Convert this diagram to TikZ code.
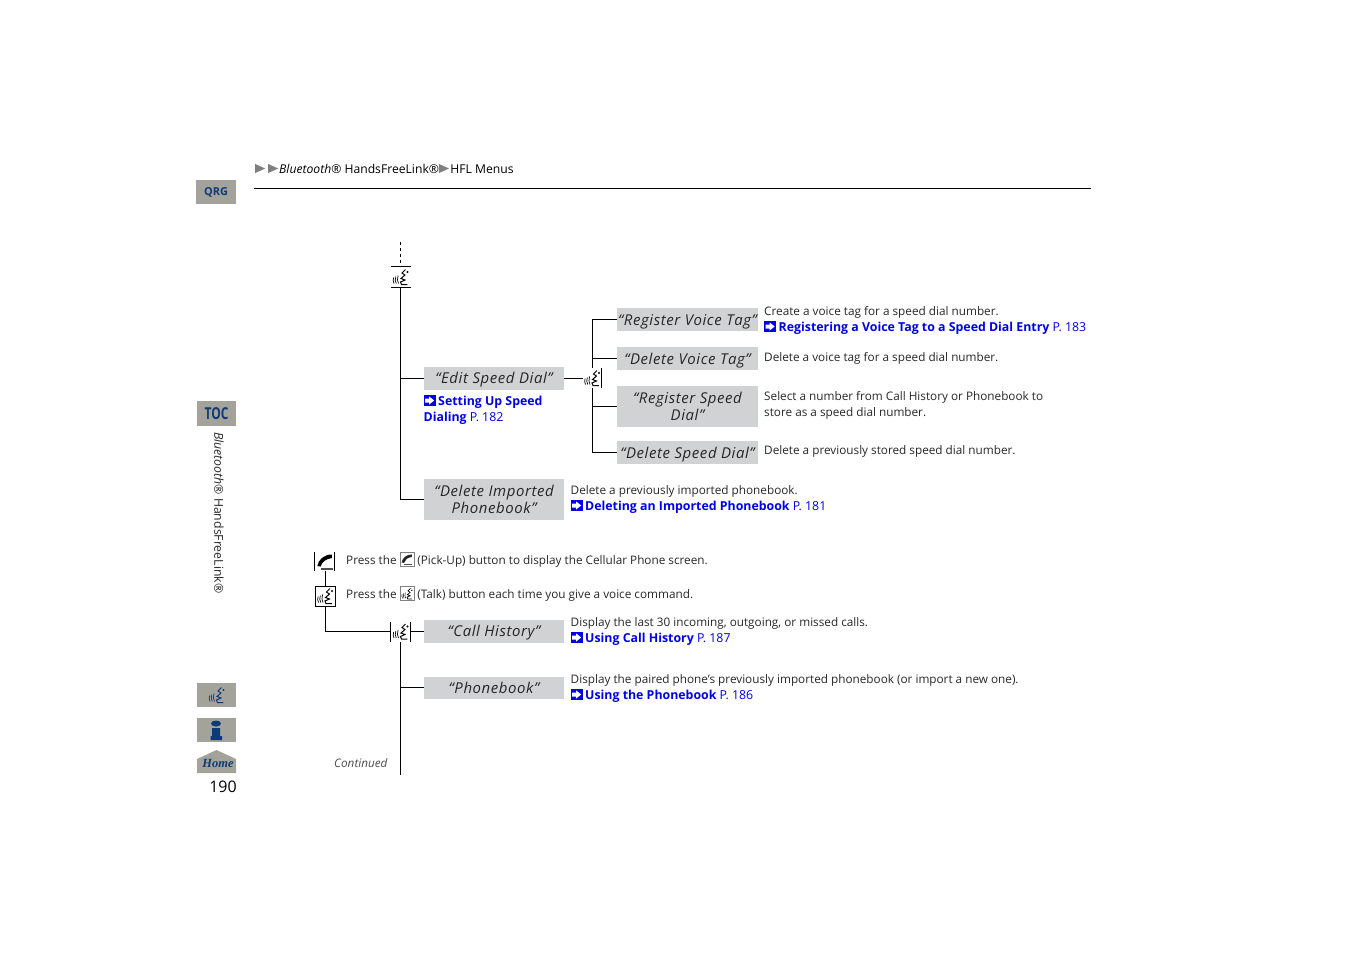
\documentclass[tikz,border=0pt]{standalone}
\usepackage{fontspec}
\setmainfont{Open Sans}
\newfontfamily\homefont{Liberation Serif}
\usetikzlibrary{positioning}
\definecolor{menugray}{HTML}{D1D2D4}
\definecolor{tabgray}{HTML}{A3A39B}
\definecolor{tabblue}{HTML}{0F3A78}
\definecolor{linkblue}{HTML}{0000E6}
\definecolor{crumbgray}{HTML}{7F7F7F}
\tikzset{
  menubox/.style={fill=menugray,minimum width=140bp,inner sep=0pt,align=center,font=\fontsize{15}{17}\selectfont\itshape\addfontfeature{LetterSpace=4},text=black!85},
  menuline/.style={menubox,text height=14.5bp,text depth=3.5bp},
  body/.style={anchor=base west,inner sep=0pt,align=left,font=\fontsize{11.8}{16}\selectfont,text=black!85},
  tab/.style={fill=tabgray,minimum width=39bp,minimum height=24bp,inner sep=0pt,text=tabblue},
  iconnode/.style={inner sep=0pt,minimum size=18bp},
  keybox/.style={draw=black!50,line width=0.6bp,inner sep=0pt,minimum size=14bp},
  treeline/.style={line width=0.9bp},
}
% talk button glyph, about 16 x 16
\newcommand{\talkglyph}[1][black]{\tikz[x=1bp,y=-1bp,line width=0.7bp,#1,baseline=-12bp]{
  \draw (1.2,8.5) .. controls (0.3,10.5) and (0.5,12.5) .. (1.6,14.5);
  \draw (3.4,7.5) .. controls (2.4,10) and (2.6,12.5) .. (3.8,14.5);
  \draw (5.6,6.5) .. controls (4.6,9.5) and (4.8,12.5) .. (6,14.5);
  \draw[line width=1bp] (13,0.5) -- (9.5,4) -- (12.5,6) -- (8.5,9.5) -- (12.5,11) -- (8,13) -- (9,15.5) -- (15,15.5);
  \fill (15,3) circle (1.1bp);
}}
\newcommand{\phoneglyph}{\tikz[x=1bp,y=-1bp,baseline=-12bp]{
  \fill (15,0.5) .. controls (7,0.5) and (1.5,6) .. (0.5,12) -- (4,12.5) .. controls (5,8) and (9,5) .. (15,4) -- cycle;
  \fill[black!70] (4,13.5) rectangle (16,15.5);
}}
\newcommand{\linkarrow}{\tikz[x=1bp,y=-1bp,baseline=-10bp]{
  \fill[linkblue] (0,0) rectangle (12,11);
  \fill[white] (1.5,3.5) -- (5.5,3.5) -- (5.5,1.5) -- (10.5,5.5) -- (5.5,9.5) -- (5.5,7.5) -- (1.5,7.5) -- cycle;
}\hspace{2.5bp}}
\newcommand{\reflink}[2]{\textcolor{linkblue}{\fontsize{12.4}{16}\selectfont\linkarrow\textbf{#1} P. #2}}
\newcommand{\crumb}{\tikz[baseline=0bp]{\fill[crumbgray] (0,0) -- (10bp,4.5bp) -- (0,9bp) -- cycle;}}
\begin{document}
\begin{tikzpicture}[x=1bp,y=-1bp]
  \useasboundingbox (0,0) rectangle (1350,954);
  % header
  \node[body,text=black,font=\fontsize{12.2}{16}\selectfont] (crumbs) at (255,173) {\crumb\hspace{3bp}\crumb\hspace{1bp}\textit{Bluetooth}® HandsFreeLink®\crumb\hspace{1.5bp}HFL Menus};
  \coordinate (ruleL) at (254,188.5);
  \coordinate (ruleR) at (1091,188.5);
  \draw[line width=1bp] (ruleL) -- (ruleR);
  % side tabs
  \node[tab,minimum width=40bp,font=\fontsize{11}{13}\selectfont\bfseries] (qrg) at (216,192) {QRG};
  \node[tab,font=\fontsize{15}{16}\selectfont\bfseries,minimum height=25bp] (toc) at (216.5,413.5) {\scalebox{0.8}[1.1]{TOC}};
  \node[tab] (voicetab) at (216.5,695) {\talkglyph[tabblue]};
  \node[tab] (infotab) at (216.5,730) {};
  \fill[tabblue] (216,723.5) ellipse (5bp and 3bp);
  \fill[tabblue] (212,728) rectangle (220,736) (210.5,736) rectangle (222,740);
  \fill[tabgray] (197,773) -- (197,759) -- (216.5,750) -- (236,759) -- (236,773) -- cycle;
  \node[inner sep=0pt,text=tabblue,font=\homefont\fontsize{12.5}{13}\selectfont\bfseries\itshape] (hometab) at (218,763) {Home};
  \node[body,anchor=north west,rotate=-90,font=\fontsize{12.3}{16}\selectfont] (sidetitle) at (224,432) {\textit{Bluetooth}® HandsFreeLink®};
  \node[inner sep=0pt,font=\fontsize{16}{18}\selectfont] (pagenum) at (223,787) {190};
  % upper tree
  \coordinate (dashtop) at (400.5,242);
  \node[iconnode] (talkA) at (400.5,277) {\talkglyph};
  \coordinate (talkAn) at (400.5,266.5);
  \coordinate (talkAs) at (400.5,287);
  \draw[treeline,dashed] (dashtop) -- (talkAn);
  \draw[treeline] (391,266.5) -- (411,266.5);
  \draw[treeline] (391,287) -- (411,287);
  \node[menuline,minimum height=23bp] (edit) at (494,378) {“Edit Speed Dial”};
  \node[menubox,minimum height=41bp] (delimp) at (494,499.5) {“Delete Imported\\Phonebook”};
  \draw[treeline] (talkAs) |- (edit);
  \draw[treeline] (talkAs) |- (delimp);
  \node[body] (editref) at (423.5,405) {\textcolor{linkblue}{\fontsize{12.4}{16}\selectfont\linkarrow\textbf{Setting Up Speed}}};
  \node[body] (editref2) at (423.5,421) {\textcolor{linkblue}{\fontsize{12.4}{16}\selectfont\textbf{Dialing} P. 182}};
  \node[body] (delimptext) at (570.5,494) {Delete a previously imported phonebook.};
  \node[body] (delimpref) at (570.5,510) {\reflink{Deleting an Imported Phonebook}{181}};
  % edit speed dial branch
  \node[iconnode] (talkB) at (592,378) {\talkglyph};
  \draw[treeline] (edit) -- (talkB);
  \draw[treeline] (601.5,368) -- (601.5,388);
  \node[menuline,minimum width=141bp,minimum height=23bp] (regvoice) at (687.5,319.5) {“Register Voice Tag”};
  \node[menuline,minimum width=141bp,minimum height=23bp] (delvoice) at (687.5,358.5) {“Delete Voice Tag”};
  \node[menubox,minimum width=141bp,minimum height=41bp] (regspeed) at (687.5,406) {“Register Speed\\Dial”};
  \node[menuline,minimum width=141bp,minimum height=23bp] (delspeed) at (687.5,452.5) {“Delete Speed Dial”};
  \coordinate (talkBn) at (592.5,368);
  \coordinate (talkBs) at (592.5,388);
  \draw[treeline] (talkBn) |- (regvoice);
  \draw[treeline] (talkBn) |- (delvoice);
  \draw[treeline] (talkBs) |- (regspeed);
  \draw[treeline] (talkBs) |- (delspeed);
  \node[body] (regvoicetext) at (764,315) {Create a voice tag for a speed dial number.};
  \node[body] (regvoiceref) at (764,331) {\reflink{Registering a Voice Tag to a Speed Dial Entry}{183}};
  \node[body] (delvoicetext) at (764,361) {Delete a voice tag for a speed dial number.};
  \node[body] (regspeedtext) at (764,416) {Select a number from Call History or Phonebook to\\store as a speed dial number.};
  \node[body] (delspeedtext) at (764,454) {Delete a previously stored speed dial number.};
  % press instructions
  \node[iconnode] (phonekey) at (325,562) {\phoneglyph};
  \draw[treeline] (314.5,552) -- (314.5,571) (334.5,552) -- (334.5,571);
  \node[iconnode,draw,line width=0.9bp,minimum size=20bp] (talkkey) at (325,596) {\talkglyph};
  \draw[treeline] (325,571) -- (talkkey);
  \node[body] (presspick) at (346,564) {Press the \tikz[baseline=-1.5bp]{\node[keybox] (pickkey) {\scalebox{0.7}{\phoneglyph}};} (Pick-Up) button to display the Cellular Phone screen.};
  \node[body] (presstalk) at (346,598) {Press the \tikz[baseline=-1.5bp]{\node[keybox] (talkkeysm) {\scalebox{0.7}{\talkglyph}};} (Talk) button each time you give a voice command.};
  % lower tree
  \node[iconnode] (talkC) at (400.5,631.5) {\talkglyph};
  \draw[treeline] (390.5,622) -- (390.5,642) (410.5,622) -- (410.5,642);
  \draw[treeline] (talkkey) |- (390.5,631.5);
  \node[menuline,minimum height=23bp] (callhist) at (494,631) {“Call History”};
  \draw[treeline] (410.5,631) -- (callhist);
  \node[menuline,minimum height=22bp] (phonebook) at (494,687.5) {“Phonebook”};
  \coordinate (talkCs) at (400.5,642);
  \coordinate (treeend) at (400.5,775);
  \draw[treeline] (talkCs) -- (treeend);
  \draw[treeline] (400.5,687.5) -- (phonebook);
  \node[body] (callhisttext) at (570.5,626) {Display the last 30 incoming, outgoing, or missed calls.};
  \node[body] (callhistref) at (570.5,642) {\reflink{Using Call History}{187}};
  \node[body] (phonebooktext) at (570.5,683) {Display the paired phone’s previously imported phonebook (or import a new one).};
  \node[body] (phonebookref) at (570.5,699) {\reflink{Using the Phonebook}{186}};
  \node[body,font=\fontsize{11.8}{14}\selectfont\itshape,text=black!70] (contd) at (334,767) {Continued};
\end{tikzpicture}
\end{document}
